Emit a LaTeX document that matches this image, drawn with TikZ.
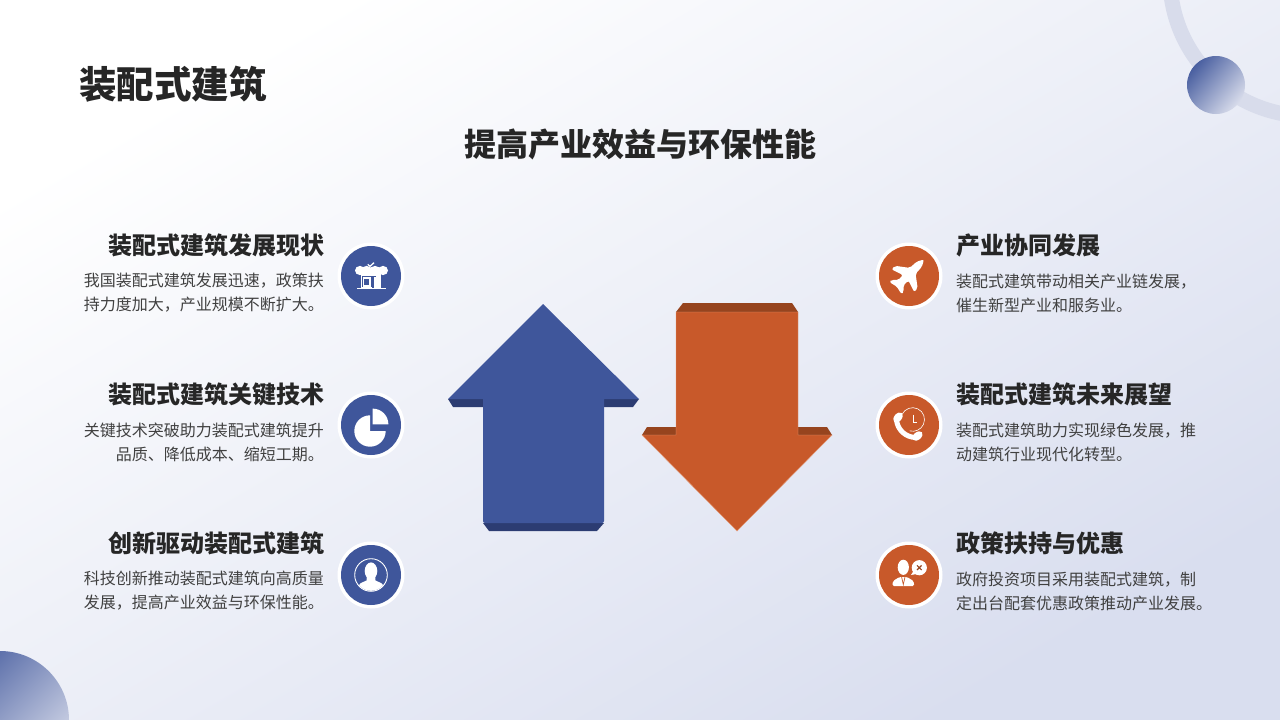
\documentclass[tikz,border=0pt]{standalone}
\usepackage{fontspec}
\setmainfont{Noto Sans CJK SC}
\usetikzlibrary{shapes.geometric}
\definecolor{bluem}{HTML}{3F569B}
\definecolor{blued}{HTML}{2C3C72}
\definecolor{orgm}{HTML}{C8592A}
\definecolor{orgd}{HTML}{96441E}
\definecolor{orgl}{HTML}{E39A78}
\definecolor{bgA}{HTML}{FFFFFF}
\definecolor{bgB}{HTML}{D9DEEF}
\definecolor{deco}{HTML}{D8DCEB}
\definecolor{txtd}{HTML}{262626}
\definecolor{txtb}{HTML}{404040}
\tikzset{
  headtxt/.style={inner sep=0pt,text=txtd,font=\fontsize{24}{28}\selectfont\bfseries},
  bodytxt/.style={inner sep=0pt,text=txtb,font=\fontsize{16}{24}\selectfont},
  ringw/.style={circle,minimum size=67pt,inner sep=0pt,fill=white},
  dotb/.style={circle,minimum size=60pt,inner sep=0pt,fill=bluem},
  doto/.style={circle,minimum size=60pt,inner sep=0pt,fill=orgm},
}
\begin{document}
\begin{tikzpicture}[x=1pt,y=-1pt]
\useasboundingbox (0,0) rectangle (1280,720);
\begin{scope}
\clip (0,0) rectangle (1280,720);
% background
\shade[top color=bgA,bottom color=bgB,shading angle=30] (0,0) rectangle (1280,720);
% decoration
\draw[deco,line width=15pt] (1308,-22) circle[radius=138];
\shade[top color=bluem!95!white,bottom color=deco,shading angle=50] (1216,85) circle[radius=29];
\shade[top color=bluem!95!white,bottom color=deco,shading angle=45] (0,720) circle[radius=69];
\end{scope}
% titles
\node[anchor=west,inner sep=0pt,text=txtd,font=\fontsize{37.5}{40}\selectfont\bfseries] (title) at (79,84) {装配式建筑};
\node[inner sep=0pt,text=txtd,font=\fontsize{32}{36}\selectfont\bfseries] (sub) at (640,144) {提高产业效益与环保性能};
% arrows
\fill[blued] (448,399) -- (453,407) -- (633,407) -- (639,399) -- cycle;
\fill[blued] (483,523) -- (489,531) -- (597,531) -- (604,523) -- cycle;
\fill[bluem] (543,304) -- (639,399) -- (604,399) -- (604,516) [rounded corners=2pt] -- (604,523) -- (483,523) [sharp corners] -- (483,399) -- (448,399) -- cycle;
\fill[orgd] (676,312) -- (683,303) -- (792,303) -- (798,312) -- cycle;
\fill[orgd] (642,435) -- (647,427) -- (827,427) -- (832,435) -- cycle;
\draw[orgl,line width=.4pt,fill=orgm,line join=miter] (676,312) -- (798,312) -- (798,435) -- (832,435) -- (737,531) -- (642,435) -- (676,435) -- cycle;
% circles
\node[ringw] (c1w) at (371,276) {};
\node[dotb] (c1) at (371,276) {};
\node[ringw] (c2w) at (371,425) {};
\node[dotb] (c2) at (371,425) {};
\node[ringw] (c3w) at (371,575) {};
\node[dotb] (c3) at (371,575) {};
\node[ringw] (c4w) at (909,276) {};
\node[doto] (c4) at (909,276) {};
\node[ringw] (c5w) at (909,425) {};
\node[doto] (c5) at (909,425) {};
\node[ringw] (c6w) at (909,575) {};
\node[doto] (c6) at (909,575) {};
% icon: shop
\fill[white] (360.7,270) rectangle (380.7,288);
\fill[white] (360,270.5) ellipse[x radius=5,y radius=4.6];
\fill[white] (366.5,270.5) ellipse[x radius=5.5,y radius=4.6];
\fill[white] (375,270.5) ellipse[x radius=5.5,y radius=4.6];
\fill[white] (383,270.5) ellipse[x radius=5,y radius=4.6];
\fill[bluem] (362,275.5) rectangle (376,276.3);
\fill[bluem] (362,276) rectangle (373.5,288);
\fill[white] (362.5,277) rectangle (371,286.5);
\fill[bluem] (364.3,278.5) rectangle (369.3,284.5);
\fill[white] (362,286.5) rectangle (372,288);
\draw[white,line width=1.3pt] (367.7,264.3) -- (370,266.3) -- (374,262.7);
\fill[white] (357,288.2) rectangle (386,289.4);
% icon: pie
\fill[white] (370,431) -- (370,415.3) arc[start angle=-90,end angle=-360,radius=15.7] -- cycle;
\fill[white] (372.7,424.3) -- (372.7,408.6) arc[start angle=-90,end angle=0,radius=15.7] -- cycle;
% icon: person
\begin{scope}
\clip (371,575) circle[radius=15.8];
\fill[white] (371,571) ellipse[x radius=6.3,y radius=8.6];
\fill[white] (367,576) -- (375,576) -- (375.5,580.5) -- (381,583) .. controls (383,584) and (384,587) .. (384,592) -- (358,592) .. controls (358,587) and (359,584) .. (361,583) -- (366.5,580.5) -- cycle;
\end{scope}
\draw[white,line width=.9pt] (371,575) circle[radius=16.3];
% icon: plane
\begin{scope}[shift={(908.5,275)},rotate=45]
\fill[white,rounded corners=2pt] (22,0) -- (15,-3.8) -- (6,-4) -- (-3,-16) -- (-8,-16) -- (-4,-4) -- (-11,-3.6) -- (-15,-8.5) -- (-18.5,-8.5) -- (-16.5,0) -- (-18.5,8.5) -- (-15,8.5) -- (-11,3.6) -- (-4,4) -- (-8,16) -- (-3,16) -- (6,4) -- (15,3.8) -- cycle;
\end{scope}
% icon: phone and clock
\draw[white,line width=.6pt] (902,414.5) arc[start angle=-155,end angle=105,radius=11.8];
\draw[white,line width=.9pt] (913.2,414.7) -- (913.2,422.7) -- (917.4,422.7);
\draw[white,line width=5pt,line cap=round] (896.5,420) .. controls (897.5,430) and (906,437.5) .. (916,437.5);
\fill[white,rotate around={50:(898,417.5)}] (898,417.5) ellipse[x radius=5.8,y radius=3.8];
\fill[white,rotate around={40:(917.5,436)}] (917.5,436) ellipse[x radius=5.8,y radius=3.8];
% icon: person and bubble
\fill[white] (903.3,567.3) ellipse[x radius=5.6,y radius=7.6];
\fill[white,rounded corners=1.5pt] (892.3,586) -- (893,581) -- (899.5,577) -- (907,577) -- (913.5,581) -- (914.3,586) -- cycle;
\draw[orgm,line width=.7pt] (901.5,576.5) -- (903.3,584.5) -- (905.1,576.5);
\fill[white] (919.3,567.7) circle[radius=7.6];
\fill[white] (913.5,571) -- (911,575) -- (916.5,574) -- cycle;
\draw[orgd,line width=1.2pt] (917,565.4) -- (921.6,570) (921.6,565.4) -- (917,570);
% left texts
\node[headtxt,anchor=east] (h1) at (325,245) {装配式建筑发展现状};
\node[bodytxt,anchor=east,align=right] (b1) at (324,293) {我国装配式建筑发展迅速，政策扶\\持力度加大，产业规模不断扩大。};
\node[headtxt,anchor=east] (h2) at (325,394) {装配式建筑关键技术};
\node[bodytxt,anchor=east,align=right] (b2) at (324,442) {关键技术突破助力装配式建筑提升\\品质、降低成本、缩短工期。};
\node[headtxt,anchor=east] (h3) at (325,543) {创新驱动装配式建筑};
\node[bodytxt,anchor=east,align=right] (b3) at (324,591) {科技创新推动装配式建筑向高质量\\发展，提高产业效益与环保性能。};
% right texts
\node[headtxt,anchor=west] (h4) at (956,245) {产业协同发展};
\node[bodytxt,anchor=west,align=left] (b4) at (956,293) {装配式建筑带动相关产业链发展，\\催生新型产业和服务业。};
\node[headtxt,anchor=west] (h5) at (956,394) {装配式建筑未来展望};
\node[bodytxt,anchor=west,align=left] (b5) at (956,442) {装配式建筑助力实现绿色发展，推\\动建筑行业现代化转型。};
\node[headtxt,anchor=west] (h6) at (956,543) {政策扶持与优惠};
\node[bodytxt,anchor=west,align=left] (b6) at (956,591) {政府投资项目采用装配式建筑，制\\定出台配套优惠政策推动产业发展。};
\end{tikzpicture}
\end{document}
